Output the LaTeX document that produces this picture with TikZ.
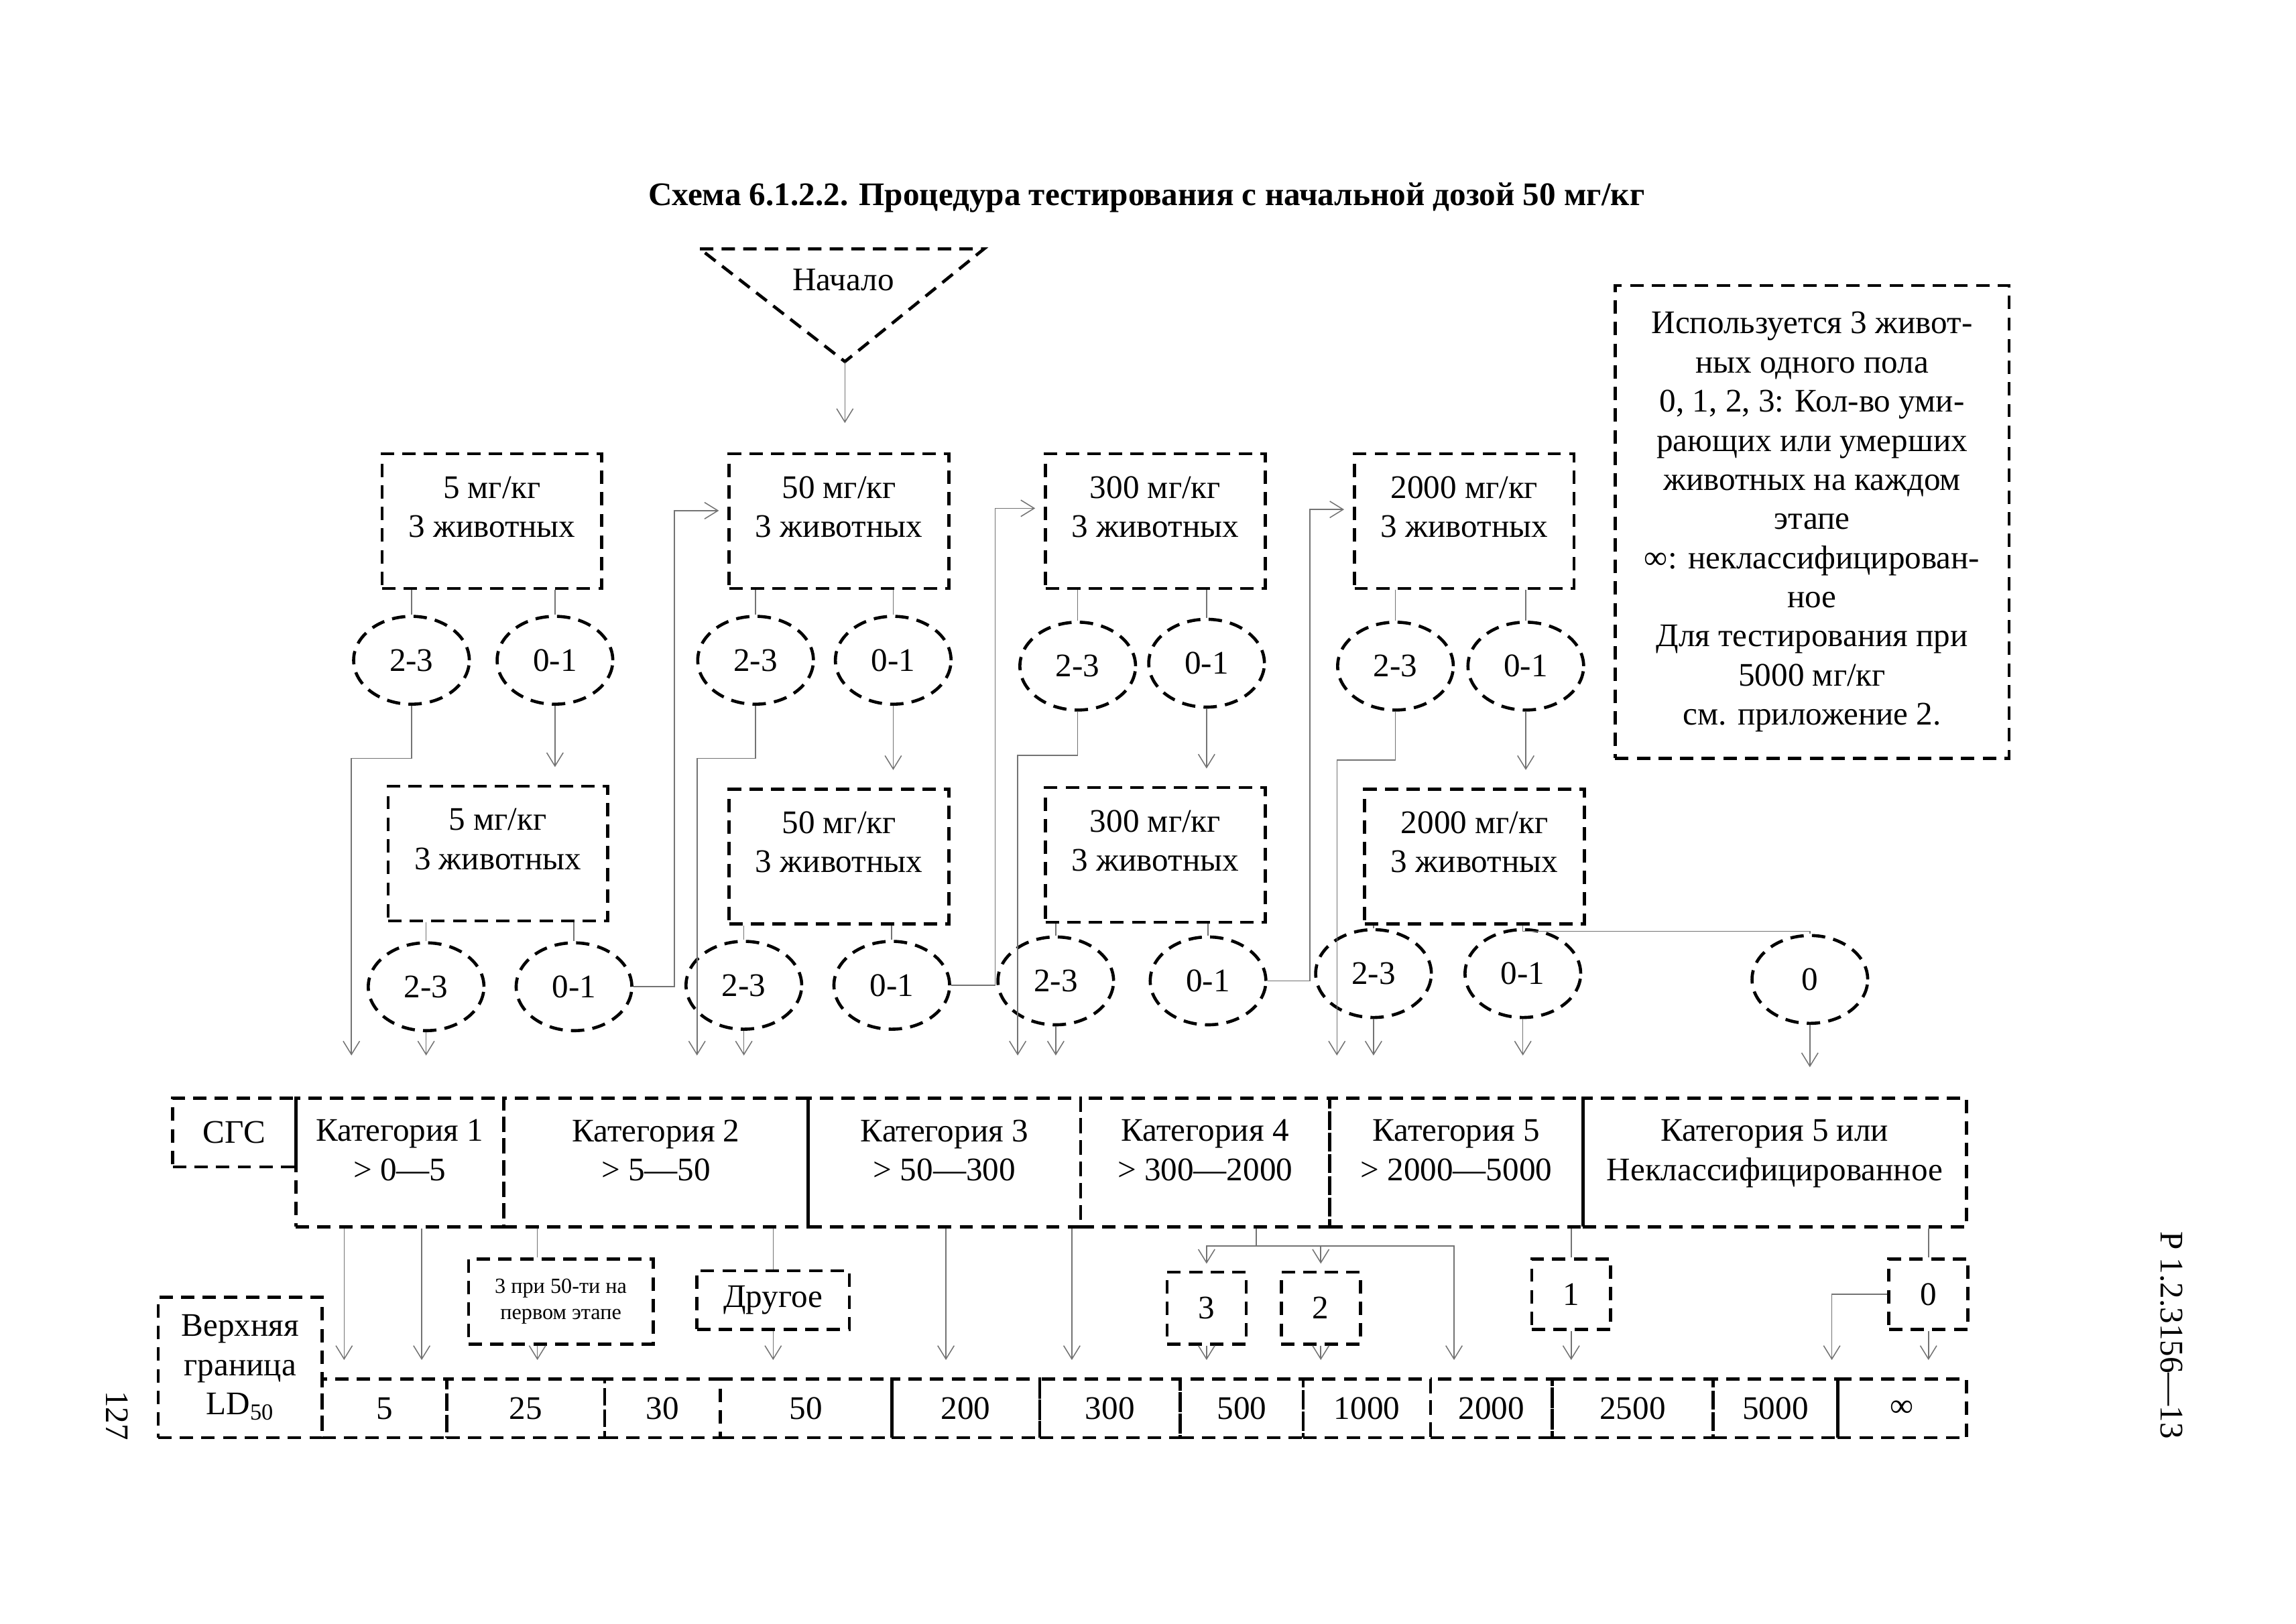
\documentclass[tikz,border=0pt]{standalone}
\usepackage{fontspec}
\setmainfont{Liberation Serif}
\usepackage{amsmath}
\usetikzlibrary{shapes.geometric,arrows.meta}
\tikzset{
  wh/.style 2 args={minimum width=#1*0.025cm,minimum height=#2*0.025cm},
  dbox/.style={draw,line width=1.5pt,dash pattern=on 6.5pt off 4pt},
  dose/.style={dbox,wh={150}{92},align=center,text depth=14pt},
  ell/.style={dbox,ellipse,wh={79}{60}},
  cat/.style={dbox,align=center,text depth=12pt},
  cell/.style={dbox,minimum height=40*0.025cm},
  ln/.style={draw=black!55,line width=0.5pt},
  arr/.style={ln,-{Straight Barb[length=6.5pt,width=8pt]}},
}

\begin{document}
\begin{tikzpicture}[x=0.025cm,y=0.025cm]
      \tikzstyle{every node}+=[inner sep=0pt,font=\fontsize{16}{19}\selectfont]
      \useasboundingbox (0,0) rectangle (1568,-1109);
      \node[font=\bfseries\fontsize{16}{19}\selectfont] (title) at (783,-135) {Схема 6.1.2.2. Процедура тестирования с начальной дозой 50 мг/кг};
      \draw [dbox] (478,-170) -- (672,-170) -- (577,-247) -- cycle;
      \node (start) at (576,-191) {Начало};
      \coordinate (apex) at (577,-247);

      \node[dose] (b5a) at (336,-356) {5 мг/кг\\3 животных};
      \node[dose] (b50a) at (573,-356) {50 мг/кг\\3 животных};
      \node[dose] (b300a) at (789,-356) {300 мг/кг\\3 животных};
      \node[dose] (b2000a) at (1000,-356) {2000 мг/кг\\3 животных};
      \node[dose] (b5b) at (340,-583) {5 мг/кг\\3 животных};
      \node[dose] (b50b) at (573,-585) {50 мг/кг\\3 животных};
      \node[dose] (b300b) at (789,-584) {300 мг/кг\\3 животных};
      \node[dose] (b2000b) at (1007,-585) {2000 мг/кг\\3 животных};

      \node[ell] (e5a23) at (281,-451) {2-3};
      \node[ell] (e5a01) at (379,-451) {0-1};
      \node[ell] (e50a23) at (516,-451) {2-3};
      \node[ell] (e50a01) at (610,-451) {0-1};
      \node[ell] (e300a23) at (736,-455) {2-3};
      \node[ell] (e300a01) at (824,-453) {0-1};
      \node[ell] (e2000a23) at (953,-455) {2-3};
      \node[ell] (e2000a01) at (1042,-455) {0-1};
      \node[ell] (e5b23) at (291,-674) {2-3};
      \node[ell] (e5b01) at (392,-674) {0-1};
      \node[ell] (e50b23) at (508,-673) {2-3};
      \node[ell] (e50b01) at (609,-673) {0-1};
      \node[ell] (e300b23) at (721,-670) {2-3};
      \node[ell] (e300b01) at (825,-670) {0-1};
      \node[ell] (e2000b23) at (938,-665) {2-3};
      \node[ell] (e2000b01) at (1040,-665) {0-1};
      \node[ell] (e0) at (1236,-669) {0};

      \node[dbox,wh={269}{323},align=center] (legend) at (1237.5,-356.5) {Используется 3 живот-\\ных одного пола\\0, 1, 2, 3: Кол-во уми-\\рающих или умерших\\животных на каждом\\этапе\\∞: неклассифицирован-\\ное\\Для тестирования при\\5000 мг/кг\\см. приложение 2.};

      \node[dbox,wh={84}{47}] (sgs) at (160,-773.5) {СГС};
      \node[cat,wh={142}{88}] (cat1) at (273,-794) {Категория 1\\> 0—5};
      \node[cat,wh={208}{88}] (cat2) at (448,-794) {Категория 2\\> 5—50};
      \node[cat,wh={186}{88}] (cat3) at (645,-794) {Категория 3\\> 50—300};
      \node[cat,wh={170}{88}] (cat4) at (823,-794) {Категория 4\\> 300—2000};
      \node[cat,wh={173}{88}] (cat5) at (994.5,-794) {Категория 5\\> 2000—5000};
      \node[cat,wh={262}{88}] (cat5u) at (1212,-794) {Категория 5 или\\Неклассифицированное};

      \node[dbox,wh={126}{58},align=center,font=\fontsize{10.5}{12.5}\selectfont] (n3at) at (383,-889) {3 при 50-ти на\\первом этапе};
      \node[dbox,wh={104}{40}] (drugoe) at (528,-888) {Другое};
      \node[dbox,wh={54}{49}] (n3) at (824,-893.5) {3};
      \node[dbox,wh={54}{49}] (n2) at (902,-893.5) {2};
      \node[dbox,wh={54}{48}] (n1) at (1073,-884) {1};
      \node[dbox,wh={54}{48}] (n0) at (1317,-884) {0};

      \node[dbox,wh={112}{96},align=center] (ld) at (164,-934) {Верхняя\\граница\\LD\textsubscript{50}};
      \node[cell,minimum width=85*0.025cm] (v5) at (262.5,-962) {5};
      \node[cell,minimum width=108*0.025cm] (v25) at (359,-962) {25};
      \node[cell,minimum width=79*0.025cm] (v30) at (452.5,-962) {30};
      \node[cell,minimum width=117*0.025cm] (v50) at (550.5,-962) {50};
      \node[cell,minimum width=101*0.025cm] (v200) at (659.5,-962) {200};
      \node[cell,minimum width=96*0.025cm] (v300) at (758,-962) {300};
      \node[cell,minimum width=84*0.025cm] (v500) at (848,-962) {500};
      \node[cell,minimum width=87*0.025cm] (v1000) at (933.5,-962) {1000};
      \node[cell,minimum width=83*0.025cm] (v2000) at (1018.5,-962) {2000};
      \node[cell,minimum width=110*0.025cm] (v2500) at (1115,-962) {2500};
      \node[cell,minimum width=85*0.025cm] (v5000) at (1212.5,-962) {5000};
      \node[cell,minimum width=88*0.025cm] (vinf) at (1299,-962) {∞};

      \node[rotate=-90] (code) at (1483,-912) {Р 1.2.3156—13};
      \node[rotate=-90] (page) at (80,-967) {127};

      \draw [arr,shorten >=0.5cm] (apex) -- (apex |- b50a.north);
      \draw [ln] (e5a23.north |- b5a.south) -- (e5a23.north);
      \draw [ln] (e5a01.north |- b5a.south) -- (e5a01.north);
      \draw [ln] (e50a23.north |- b50a.south) -- (e50a23.north);
      \draw [ln] (e50a01.north |- b50a.south) -- (e50a01.north);
      \draw [ln] (e300a23.north |- b300a.south) -- (e300a23.north);
      \draw [ln] (e300a01.north |- b300a.south) -- (e300a01.north);
      \draw [ln] (e2000a23.north |- b2000a.south) -- (e2000a23.north);
      \draw [ln] (e2000a01.north |- b2000a.south) -- (e2000a01.north);
      \draw [ln] (e5b23.north |- b5b.south) -- (e5b23.north);
      \draw [ln] (e5b01.north |- b5b.south) -- (e5b01.north);
      \draw [ln] (e50b23.north |- b50b.south) -- (e50b23.north);
      \draw [ln] (e50b01.north |- b50b.south) -- (e50b01.north);
      \draw [ln] (e300b23.north |- b300b.south) -- (e300b23.north);
      \draw [ln] (e300b01.north |- b300b.south) -- (e300b01.north);
      \draw [ln] (e2000b23.north |- b2000b.south) -- (e2000b23.north);
      \draw [ln] (e2000b01.north |- b2000b.south) -- (e2000b01.north);
      \draw [ln] (e2000b01.north |- b2000b.south) -- ++(0,-4) -| (e0.north);

      \draw [arr,shorten >=0.3cm] (e5a01.south) -- (e5a01.south |- b5b.north);
      \draw [arr,shorten >=0.3cm] (e50a01.south) -- (e50a01.south |- b50b.north);
      \draw [arr,shorten >=0.3cm] (e300a01.south) -- (e300a01.south |- b300b.north);
      \draw [arr,shorten >=0.3cm] (e2000a01.south) -- (e2000a01.south |- b2000b.north);

      \draw [arr,shorten >=0.7cm] (e5a23.south) -- ++(0,-36) -| (240,0 |- cat1.north);
      \draw [arr,shorten >=0.7cm] (e50a23.south) -- ++(0,-36) -| (476,0 |- cat2.north);
      \draw [arr,shorten >=0.7cm] (e300a23.south) -- ++(0,-30) -| (695,0 |- cat3.north);
      \draw [arr,shorten >=0.7cm] (e2000a23.south) -- ++(0,-33) -| (913,0 |- cat5.north);
      \draw [arr,shorten >=0.7cm] (e5b23.south) -- (e5b23.south |- cat1.north);
      \draw [arr,shorten >=0.7cm] (e50b23.south) -- (e50b23.south |- cat2.north);
      \draw [arr,shorten >=0.7cm] (e300b23.south) -- (e300b23.south |- cat3.north);
      \draw [arr,shorten >=0.7cm] (e2000b23.south) -- (e2000b23.south |- cat5.north);
      \draw [arr,shorten >=0.7cm] (e2000b01.south) -- (e2000b01.south |- cat5.north);
      \draw [arr,shorten >=0.5cm] (e0.south) -- (e0.south |- cat5u.north);

      \draw [arr,shorten >=0.15cm] (e5b01.east) -- ++(28,0) |- ([yshift=0.18cm]b50a.west);
      \draw [arr,shorten >=0.15cm] (e50b01.east) -- ++(30,0) |- ([yshift=0.22cm]b300a.west);
      \draw [arr,shorten >=0.15cm] (e300b01.east) -- ++(29,0) |- ([yshift=0.2cm]b2000a.west);

      \draw [arr,shorten >=0.3cm] (235,0 |- cat1.south) -- (235,0 |- v5.north);
      \draw [arr,shorten >=0.3cm] (288,0 |- cat1.south) -- (288,0 |- v5.north);
      \draw [ln] (367,0 |- cat2.south) -- (367,0 |- n3at.north);
      \draw [arr,shorten >=0.3cm] (367,0 |- n3at.south) -- (367,0 |- v25.north);
      \draw [ln] (drugoe.north |- cat2.south) -- (drugoe.north);
      \draw [arr,shorten >=0.3cm] (drugoe.south) -- (drugoe.south |- v50.north);
      \draw [arr,shorten >=0.3cm] (646,0 |- cat3.south) -- (646,0 |- v200.north);
      \draw [arr,shorten >=0.3cm] (732,0 |- cat3.south) -- (732,0 |- v300.north);
      \coordinate (c4) at (858,-851);
      \draw [ln] (858,0 |- cat4.south) -- (c4);
      \draw [arr,shorten >=0.12cm] (c4) -| (n3.north);
      \draw [arr,shorten >=0.12cm] (c4) -| (n2.north);
      \draw [arr,shorten >=0.3cm] (c4) -| (993,0 |- v2000.north);
      \draw [arr,shorten >=0.3cm] (n3.south) -- (n3.south |- v500.north);
      \draw [arr,shorten >=0.3cm] (n2.south) -- (n2.south |- v1000.north);
      \draw [ln] (n1.north |- cat5.south) -- (n1.north);
      \draw [arr,shorten >=0.3cm] (n1.south) -- (n1.south |- v2500.north);
      \draw [ln] (n0.north |- cat5u.south) -- (n0.north);
      \draw [arr,shorten >=0.3cm] (n0.south) -- (n0.south |- vinf.north);
      \draw [arr,shorten >=0.3cm] (n0.west) -| (1251,0 |- v5000.north);
    \end{tikzpicture}
\end{document}
